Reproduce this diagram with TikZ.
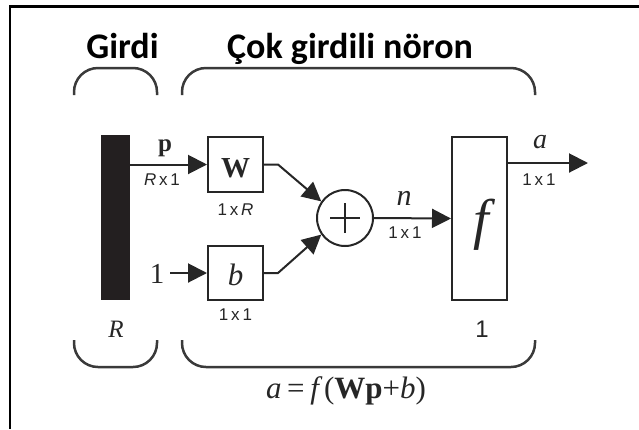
\documentclass[tikz,border=0pt]{standalone}
\usepackage{fontspec}
\setmainfont{Liberation Serif}
\newfontfamily\carlito{Carlito}
\newfontfamily\helv{Liberation Sans}
\usetikzlibrary{arrows.meta}
\definecolor{ink}{HTML}{262626}
\definecolor{barc}{HTML}{231F20}
\definecolor{bracec}{HTML}{3A3A3A}
\tikzset{
  box/.style={draw=ink, line width=2pt, inner sep=0pt},
  arr/.style={draw=ink, line width=2pt, -{Triangle[length=19pt,width=19pt]}},
  brace/.style={draw=bracec, line width=2.5pt, rounded corners=24pt},
  dim/.style={anchor=base, inner sep=0pt, text=ink, font=\helv\fontsize{17}{19}\selectfont},
  lab/.style={anchor=base, inner sep=0pt, text=ink},
  title/.style={anchor=base, inner sep=0pt, text=black, font=\carlito\bfseries\fontsize{36}{40}\selectfont},
}
\begin{document}
\begin{tikzpicture}[x=1pt,y=-1pt]
\useasboundingbox (0,0) rectangle (639,429);
% frame
\draw[black, line width=2.5pt] (639,6.5) -- (10,6.5) -- (10,429);
% titles
\node[title] (girdi) at (122.5,58) {Girdi};
\node[title] (cok) at (350,58) {Çok girdili nöron};
% braces
\draw[brace] (74,95) -- (74,68) -- (157,68) -- (157,95);
\draw[brace] (182,95) -- (182,68) -- (535,68) -- (535,95);
\draw[brace] (74,340) -- (74,367) -- (157,367) -- (157,340);
\draw[brace] (182,340) -- (182,367) -- (535,367) -- (535,340);
% blocks
\node[fill=barc, minimum width=29pt, minimum height=165pt, inner sep=0pt] (bar) at (115.5,217.5) {};
\node[box, minimum width=55pt, minimum height=55pt] (W) at (235.5,164.5) {};
\node[box, minimum width=55pt, minimum height=54pt] (b) at (235.5,273) {};
\node[draw=ink, line width=2pt, circle, minimum size=56pt, inner sep=0pt] (sum) at (345,218) {};
\node[box, minimum width=55pt, minimum height=163pt] (f) at (479.5,218.5) {};
\draw[ink, line width=2pt] ([xshift=-15pt]sum.center) -- ([xshift=15pt]sum.center)
  ([yshift=-15pt]sum.center) -- ([yshift=15pt]sum.center);
% block texts
\node[lab, font=\bfseries\fontsize{29}{31}\selectfont] (Wt) at (235.5,177) {W};
\node[lab, font=\itshape\fontsize{31}{33}\selectfont] (bt) at (235.5,285) {b};
\node[lab, font=\itshape\fontsize{56}{60}\selectfont] (ft) at (481,238) {f};
% input 1
\node[lab, font=\fontsize{29}{31}\selectfont] (one) at (157,283) {1};
\coordinate (oneend) at (170,273);
% connectors
\draw[arr] (bar.east |- W.west) -- (W.west);
\draw[arr] (oneend) -- (b.west);
\draw[arr] (W.east) -- ++(14,0) -- (sum.145);
\draw[arr] (b.east) -- ++(14,0) -- (sum.215);
\draw[arr] (sum.east) -- (f.west);
\coordinate (aout) at (588,163);
\draw[arr] (aout -| f.east) -- (aout);
% labels
\node[lab, font=\bfseries\fontsize{25}{27}\selectfont] (pl) at (165,151) {p};
\node[dim] (rx1) at (162,185) {\textit{R}\,x\,1};
\node[dim] (wdim) at (235.5,215) {1\,x\,\textit{R}};
\node[dim] (bdim) at (235.5,320) {1\,x\,1};
\node[lab, font=\itshape\fontsize{30}{32}\selectfont] (nl) at (404,205) {n};
\node[dim] (ndim) at (405,238) {1\,x\,1};
\node[lab, font=\itshape\fontsize{28}{30}\selectfont] (al) at (540,148) {a};
\node[dim] (adim) at (539,185) {1\,x\,1};
\node[lab, font=\itshape\fontsize{25}{27}\selectfont] (Rl) at (116,337) {R};
\node[lab, font=\helv\fontsize{24}{26}\selectfont] (fone) at (482,337) {1};
\node[lab, font=\fontsize{31}{33}\selectfont] (formula) at (346,398)
  {\textit{a}\hspace{0.18em}=\hspace{0.18em}\textit{f}\hspace{0.05em}(\textbf{Wp}+\textit{b})};
\end{tikzpicture}
\end{document}
